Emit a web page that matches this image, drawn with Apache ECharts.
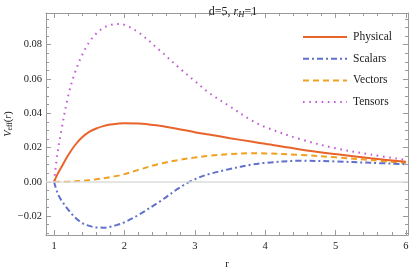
<!DOCTYPE html>
<html>
<head>
<meta charset="utf-8">
<script src="https://cdn.jsdelivr.net/npm/echarts@6/dist/echarts.min.js"></script>
<style>
html,body{margin:0;padding:0;background:#fff;}
#c{width:414px;height:273px;}
</style>
</head>
<body>
<div id="c"></div>
<script>
var rValues = [1, 1.05, 1.1, 1.2, 1.3, 1.4, 1.5, 1.6, 1.7, 1.8, 1.9, 2.0, 2.2, 2.5, 2.8, 3.0, 3.2, 3.5, 3.8, 4.0, 4.5, 5.0, 5.5, 6.0];
var physical = [0, 0.0045, 0.0082, 0.0155, 0.0215, 0.0260, 0.0291, 0.0311, 0.0325, 0.0334, 0.0339, 0.0342, 0.0341, 0.0327, 0.0306, 0.0290, 0.0276, 0.0255, 0.0235, 0.0222, 0.0189, 0.0162, 0.0138, 0.0117];
var scalars = [0, -0.0065, -0.0105, -0.0162, -0.0208, -0.0240, -0.0257, -0.0266, -0.0267, -0.0262, -0.0251, -0.0236, -0.0193, -0.0115, -0.0030, 0.0015, 0.0045, 0.0075, 0.0100, 0.0111, 0.0123, 0.0119, 0.0111, 0.0103];
var vectors = [0, 0, 0.00005, 0.0001, 0.0003, 0.0006, 0.0010, 0.0015, 0.0021, 0.0028, 0.0035, 0.0045, 0.0070, 0.0105, 0.0130, 0.0142, 0.0152, 0.0162, 0.0167, 0.0166, 0.0157, 0.0143, 0.0127, 0.0110];
var tensors = [0, 0.017, 0.029, 0.050, 0.064, 0.074, 0.0815, 0.0865, 0.0898, 0.0915, 0.0921, 0.0916, 0.0872, 0.0768, 0.0657, 0.0588, 0.0520, 0.0440, 0.0360, 0.0320, 0.0249, 0.0196, 0.0159, 0.0128];

var xMajorTicks = [1, 2, 3, 4, 5, 6];
var xMinorTicks = [1.2, 1.4, 1.6, 1.8, 2.2, 2.4, 2.6, 2.8, 3.2, 3.4, 3.6, 3.8, 4.2, 4.4, 4.6, 4.8, 5.2, 5.4, 5.6, 5.8];
var yMajorTicks = [-0.02, 0, 0.02, 0.04, 0.06, 0.08];
var yMinorTicks = [-0.03, -0.025, -0.015, -0.01, -0.005, 0.005, 0.01, 0.015, 0.025, 0.03, 0.035, 0.045, 0.05, 0.055, 0.065, 0.07, 0.075, 0.085, 0.09, 0.095];

var X_MIN = 0.886, X_MAX = 6.03, Y_MIN = -0.031, Y_MAX = 0.0985;
var FONT = 'Liberation Serif';
var FRAME = '#9a9a9a';

function pairs(ys) { return rValues.map(function (r, i) { return [r, ys[i]]; }); }

function xAx(pos, ticks, len, labels, line) {
  return {
    type: 'value', position: pos, min: X_MIN, max: X_MAX,
    axisLine: { show: line, onZero: false, lineStyle: { color: FRAME, width: 1 } },
    axisTick: { show: true, inside: true, length: len, customValues: ticks, lineStyle: { color: FRAME, width: 1 } },
    axisLabel: labels ? { show: true, customValues: ticks, fontFamily: FONT, fontSize: 10.5, color: '#222', margin: 6, formatter: function (v) { return String(Math.round(v)); } } : { show: false },
    splitLine: { show: false }
  };
}
function yAx(pos, ticks, len, labels, line) {
  return {
    type: 'value', position: pos, min: Y_MIN, max: Y_MAX,
    axisLine: { show: line, onZero: false, lineStyle: { color: FRAME, width: 1 } },
    axisTick: { show: true, inside: true, length: len, customValues: ticks, lineStyle: { color: FRAME, width: 1 } },
    axisLabel: labels ? { show: true, customValues: ticks, fontFamily: FONT, fontSize: 10.5, color: '#222', margin: 4,
      formatter: function (v) { var s = Math.abs(v).toFixed(2); return (v < -1e-9 ? '\u2212' : '') + s; } } : { show: false },
    splitLine: { show: false }
  };
}

var xAxes = [xAx('bottom', xMajorTicks, 5, true, true), xAx('bottom', xMinorTicks, 3, false, false),
             xAx('top', xMajorTicks, 5, false, true), xAx('top', xMinorTicks, 3, false, false)];
xAxes[0].name = 'r';
xAxes[0].nameLocation = 'middle';
xAxes[0].nameGap = 24;
xAxes[0].nameMoveOverlap = false;
xAxes[0].nameTextStyle = { fontFamily: FONT, fontSize: 11, color: '#222' };

var yAxes = [yAx('left', yMajorTicks, 5, true, true), yAx('left', yMinorTicks, 3, false, false),
             yAx('right', yMajorTicks, 5, false, true), yAx('right', yMinorTicks, 3, false, false)];
yAxes[0].name = '{i|V}{s|eff}{n|(}{i|r}{n|)}';
yAxes[0].nameLocation = 'middle';
yAxes[0].nameRotate = 90;
yAxes[0].nameGap = 32;
yAxes[0].nameMoveOverlap = false;
yAxes[0].nameTextStyle = { fontFamily: FONT, fontSize: 10, color: '#222',
  rich: { i: { fontFamily: FONT, fontStyle: 'italic', fontSize: 10.5, color: '#222' },
          n: { fontFamily: FONT, fontSize: 10.5, color: '#222' },
          s: { fontFamily: FONT, fontSize: 7.5, color: '#222', padding: [4, 0, 0, 0] } } };

var chart = echarts.init(document.getElementById('c'), null, { renderer: 'canvas' });
chart.setOption({
  animation: false,
  backgroundColor: '#fff',
  title: {
    text: '{n|d=5, }{i|r}{s|H}{n|=1}', left: 228, top: 0, textAlign: 'center',
    textStyle: { fontFamily: FONT, fontSize: 12, fontWeight: 'normal', color: '#222',
      rich: { n: { fontFamily: FONT, fontSize: 12, color: '#222' },
              i: { fontFamily: FONT, fontSize: 12, fontStyle: 'italic', color: '#222' },
              s: { fontFamily: FONT, fontSize: 8.5, fontStyle: 'italic', color: '#222', padding: [5, 0, 0, 0] } } }
  },
  legend: {
    orient: 'vertical', left: 297, top: 26, itemWidth: 44, itemHeight: 12, itemGap: 9.7,
    itemStyle: { opacity: 0 },
    textStyle: { fontFamily: FONT, fontSize: 11.5, color: '#222', padding: [0, 0, 0, 1] },
    data: ['Physical', 'Scalars', 'Vectors', 'Tensors']
  },
  grid: { left: 46, right: 6, top: 13, bottom: 38, containLabel: false, outerBoundsMode: 'none' },
  xAxis: xAxes,
  yAxis: yAxes,
  series: [
    { name: 'Tensors', type: 'line', data: pairs(tensors), smooth: 0.35, showSymbol: false, symbol: 'none', z: 2,
      lineStyle: { color: '#c45ad6', width: 2, type: [1.6, 4.6], cap: 'butt' }, itemStyle: { color: '#c45ad6' },
      markLine: { silent: true, symbol: 'none', label: { show: false }, lineStyle: { color: '#dcdcdc', width: 1.5, type: 'solid' }, data: [{ yAxis: 0 }] } },
    { name: 'Vectors', type: 'line', data: pairs(vectors), smooth: 0.35, showSymbol: false, symbol: 'none', z: 3,
      lineStyle: { color: '#f0a020', width: 2, type: [6, 4] }, itemStyle: { color: '#f0a020' } },
    { name: 'Scalars', type: 'line', data: pairs(scalars), smooth: 0.35, showSymbol: false, symbol: 'none', z: 3,
      lineStyle: { color: '#6070cc', width: 2, type: [6, 3, 2, 3] }, itemStyle: { color: '#6070cc' } },
    { name: 'Physical', type: 'line', data: pairs(physical), smooth: 0.35, showSymbol: false, symbol: 'none', z: 4,
      lineStyle: { color: '#e8642a', width: 2, type: 'solid' }, itemStyle: { color: '#e8642a' } }
  ]
});
</script>
</body>
</html>
